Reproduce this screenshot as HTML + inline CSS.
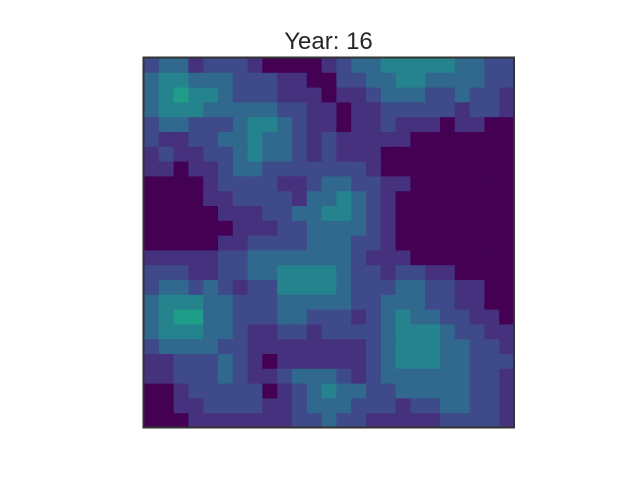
<!DOCTYPE html>
<html><head><meta charset="utf-8">
<style>
html,body{margin:0;padding:0;background:#fff;}
#wrap{position:relative;width:640px;height:480px;}
svg{position:absolute;left:0;top:0;}
</style></head>
<body>
<div id="wrap">
<svg id="chart" width="640" height="480">
  <text x="328.5" y="49" text-anchor="middle" font-family="'Liberation Sans', sans-serif" font-size="24" fill="#262626">Year: 16</text>
  <g id="cells"></g>
  <rect x="143.5" y="57.5" width="370.5" height="370" fill="none" stroke="#333" stroke-width="2"/>
</svg>
</div>
<script>
const gridRows = [
"2331222100001233444443322",
"3443332221100223344333322",
"3454432221110112333223221",
"3444333332211011222221221",
"2332223443211011211101100",
"2112233433212111110000000",
"1211223433212111000000000",
"1101123322222221000000000",
"0000122221123322110000000",
"0000112222133432100000000",
"0000011122334432100000000",
"0000001112233332100000000",
"0000011222233322100000000",
"1111122333333321110000000",
"2221122334444322122110000",
"2332321224444322233221100",
"3444332223333322333221100",
"3455332223322212343322110",
"3444332112212222344432211",
"2333322111111112344433221",
"1122232101111112344433222",
"1122232112333212333333221",
"0012222201234332233333221",
"0011222211233322212233221",
"0001111111223221111122221"
];
const palette = ["#440154","#46317e","#3e4a89","#30688e","#25838e","#1f9d89"];
const x0 = 144, y0 = 58, w = 370, h = 370;
const nRows = gridRows.length, nCols = gridRows[0].length;
function xScale(c){ return x0 + c * w / nCols; }
function yScale(r){ return y0 + r * h / nRows; }
const g = document.getElementById('cells');
const NS = "http://www.w3.org/2000/svg";
for (let r = 0; r < nRows; r++) {
  for (let c = 0; c < nCols; c++) {
    const v = +gridRows[r][c];
    const rect = document.createElementNS(NS, 'rect');
    rect.setAttribute('x', xScale(c));
    rect.setAttribute('y', yScale(r));
    rect.setAttribute('width', xScale(c+1) - xScale(c) + 0.5);
    rect.setAttribute('height', yScale(r+1) - yScale(r) + 0.5);
    rect.setAttribute('fill', palette[v]);
    
    
    g.appendChild(rect);
  }
}
</script>
</body></html>
